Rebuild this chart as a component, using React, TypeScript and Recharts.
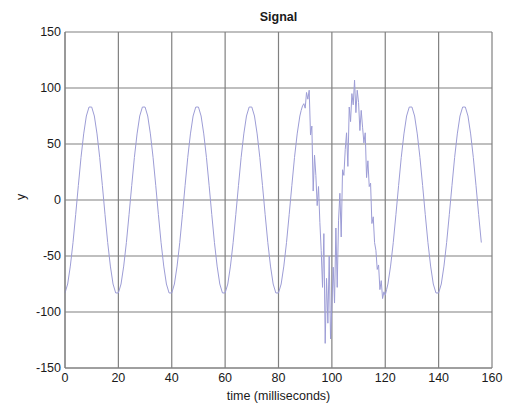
import { CartesianGrid, Label, Line, LineChart, XAxis, YAxis } from "recharts"

// clean part: one sample per millisecond
const leadTimes = Array.from({ length: 88 }, (_, i) => i) // 0..87 ms
const leadValues = [
  -83, -75, -59, -38, -13, 13, 38, 59, 75, 83, 83, 75, 59, 38, 13, -13, -38, -59, -75, -83,
  -83, -75, -59, -38, -13, 13, 38, 59, 75, 83, 83, 75, 59, 38, 13, -13, -38, -59, -75, -83,
  -83, -75, -59, -38, -13, 13, 38, 59, 75, 83, 83, 75, 59, 38, 13, -13, -38, -59, -75, -83,
  -83, -75, -59, -38, -13, 13, 38, 59, 75, 83, 83, 75, 59, 38, 13, -13, -38, -59, -75, -83,
  -83, -75, -59, -38, -13, 13, 38, 59,
]

// noisy stretch, sampled every half millisecond (88..121 ms)
const noiseTimes = Array.from({ length: 67 }, (_, i) => 88 + i * 0.5)
const noiseValues = [
  75, 80, 84, 86, 82, 96, 90, 98, 58, 66,
  8, 40, 22, -5, 12, -20, -45, -78, -30, -128,
  -70, -110, -50, -124, -95, -60, -92, -25, -78, -18,
  6, -33, 27, 22, 45, 60, 30, 83, 70, 95,
  85, 107, 78, 98, 87, 62, 80, 65, 51, 60,
  20, 35, 12, 15, -21, -15, -38, -45, -62, -58,
  -80, -72, -88, -82, -85, -80, -75,
]

// clean again, 122..156 ms
const tailTimes = Array.from({ length: 35 }, (_, i) => 122 + i)
const tailValues = [
  -59, -38, -13, 13, 38, 59, 75, 83, 83, 75, 59, 38, 13, -13, -38, -59, -75, -83,
  -83, -75, -59, -38, -13, 13, 38, 59, 75, 83, 83, 75, 59, 38, 13, -13, -38,
]

const xTicks = [0, 20, 40, 60, 80, 100, 120, 140, 160]
const yTicks = [-150, -100, -50, 0, 50, 100, 150]

const timeMs = [...leadTimes, ...noiseTimes, ...tailTimes]
const signal = [...leadValues, ...noiseValues, ...tailValues]
const data = timeMs.map((t, i) => ({ t, y: signal[i] }))

const font = "'Liberation Sans', Arial, sans-serif"
const tickStyle = { fontSize: 12.5, fill: "#1a1a1a", fontFamily: font }

export default function App() {
  return (
    <div style={{ position: "absolute", left: 0, top: 0, width: 516, height: 405, background: "#fff" }}>
      <div
        style={{
          position: "absolute",
          left: 65,
          width: 427,
          top: 10,
          textAlign: "center",
          fontFamily: font,
          fontSize: 12.5,
          fontWeight: "bold",
          color: "#1a1a1a",
        }}
      >
        Signal
      </div>
      <LineChart width={516} height={405} data={data} margin={{ top: 32, right: 24, left: 25, bottom: 9 }}>
        <CartesianGrid stroke="#808080" strokeWidth={1.2} horizontalValues={yTicks} verticalValues={xTicks} />
        <XAxis
          dataKey="t"
          type="number"
          domain={[0, 160]}
          ticks={xTicks}
          height={28}
          tickLine={false}
          tickSize={4}
          tickMargin={1}
          tick={tickStyle}
          stroke="#808080"
          interval={0}
        >
          <Label value="time (milliseconds)" position="insideBottom" offset={-4} style={tickStyle} />
        </XAxis>
        <YAxis
          type="number"
          domain={[-150, 150]}
          ticks={yTicks}
          width={40}
          tickLine={false}
          tickSize={4}
          tickMargin={0}
          tick={tickStyle}
          stroke="#808080"
          interval={0}
        >
          <Label value="y" angle={-90} position="insideLeft" offset={-4} style={tickStyle} />
        </YAxis>
        <Line
          dataKey="y"
          type="linear"
          stroke="#9d9dd6"
          strokeWidth={1}
          dot={false}
          isAnimationActive={false}
        />
      </LineChart>
    </div>
  )
}
